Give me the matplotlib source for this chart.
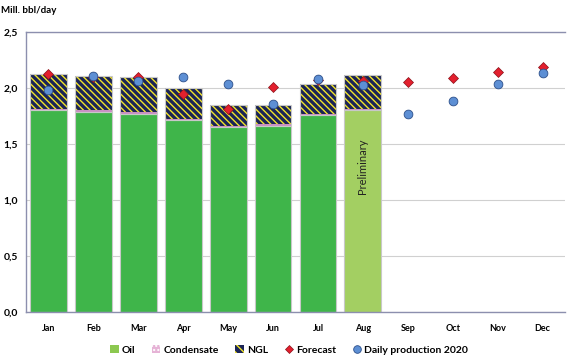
import matplotlib
matplotlib.use("Agg")
import matplotlib.pyplot as plt
from matplotlib.patches import Patch
from matplotlib.lines import Line2D
import numpy as np

plt.rcParams['font.family'] = ['Lato', 'DejaVu Sans']
plt.rcParams['hatch.linewidth'] = 1.0

months = ["Jan", "Feb", "Mar", "Apr", "May", "Jun", "Jul", "Aug", "Sep", "Oct", "Nov", "Dec"]
oil = [1.80, 1.79, 1.77, 1.71, 1.65, 1.665, 1.755, 1.80]
condensate = [0.015, 0.015, 0.015, 0.015, 0.015, 0.015, 0.015, 0.015]
ngl = [0.31, 0.305, 0.31, 0.275, 0.185, 0.17, 0.265, 0.305]
forecast = [2.125, 2.10, 2.10, 1.95, 1.81, 2.01, 2.07, 2.065, 2.05, 2.09, 2.145, 2.185]
daily_2020 = [1.985, 2.11, 2.065, 2.095, 2.04, 1.86, 2.08, 2.03, 1.77, 1.88, 2.035, 2.13]
yticks = [0.0, 0.5, 1.0, 1.5, 2.0, 2.5]
ytick_labels = ["0,0", "0,5", "1,0", "1,5", "2,0", "2,5"]

oil_color = "#3fb54a"
prelim_color = "#a3cf62"
navy = "#1b2456"
yellow = "#f2e52a"
cond_color = "#c98fc2"

fig = plt.figure(figsize=(5.67, 3.58), dpi=100)
ax = fig.add_axes([0.0459, 0.1285, 0.9506, 0.7821])

x = np.arange(len(oil))
w = 0.82
oil_colors = [oil_color] * 7 + [prelim_color]
ax.bar(x, oil, width=w, color=oil_colors, edgecolor="#c8c8c8", linewidth=0.8, zorder=2)
bottom2 = np.array(oil)
ax.bar(x, condensate, width=w, bottom=bottom2, color=cond_color, edgecolor="none",
       linewidth=0, zorder=2)
bottom3 = bottom2 + np.array(condensate)
ax.bar(x, ngl, width=w, bottom=bottom3, facecolor=navy, edgecolor=yellow,
       linewidth=0, hatch="\\\\\\\\\\", zorder=2)
ax.bar(x, np.array(ngl) + np.array(condensate), width=w, bottom=bottom2, facecolor="none",
       edgecolor="#c8c8c8", linewidth=0.8, zorder=2)

xm = np.arange(len(months))
ax.plot(xm, forecast, linestyle="none", marker="D", markersize=5, color="#e3202e",
        markeredgecolor="#8a1018", markeredgewidth=0.5, zorder=4)
ax.plot(xm, daily_2020, linestyle="none", marker="o", markersize=6.3, color="#5d8fd4",
        markeredgecolor="#2c4f8a", markeredgewidth=0.6, zorder=5)

ax.text(7, 1.30, "Preliminary", rotation=90, ha="center", va="center", fontsize=8,
        color="#222222", zorder=6)

ax.set_xlim(-0.5, 11.5)
ax.set_ylim(0, 2.5)
ax.set_yticks(yticks)
ax.set_yticklabels(ytick_labels, fontsize=7.5, fontweight="bold")
ax.set_xticks(xm)
ax.set_xticklabels(months, fontsize=6.5, fontweight="bold")
ax.tick_params(axis="both", length=0)
ax.tick_params(axis="x", pad=9)
ax.tick_params(axis="y", pad=6)
ax.grid(axis="y", color="#d0d0d0", linewidth=0.8, zorder=0)
ax.set_axisbelow(True)
for side in ["left", "bottom", "top"]:
    ax.spines[side].set_color("#8c8fae")
    ax.spines[side].set_linewidth(1.0)
ax.spines["right"].set_visible(False)

fig.text(0.002, 0.972, "Mill. bbl/day", fontsize=7, fontweight="bold", ha="left", va="center")

handles = [
    Patch(facecolor="#8cc850", edgecolor="none", label="Oil"),
    Patch(facecolor="#e6b3d6", edgecolor="white", hatch="....", linewidth=0, label="Condensate"),
    Patch(facecolor=navy, edgecolor=yellow, hatch="\\\\\\\\", linewidth=0, label="NGL"),
    Line2D([], [], linestyle="none", marker="D", markersize=4.5, color="#e3202e",
           markeredgecolor="#8a1018", markeredgewidth=0.5, label="Forecast"),
    Line2D([], [], linestyle="none", marker="o", markersize=5.5, color="#5d8fd4",
           markeredgecolor="#2c4f8a", markeredgewidth=0.6, label="Daily production 2020"),
]
leg = fig.legend(handles=handles, loc="center", bbox_to_anchor=(0.51, 0.022), ncol=5,
                 frameon=False, prop={"size": 7.5, "weight": "bold"}, handlelength=0.8,
                 handleheight=0.8, handletextpad=0.3, columnspacing=1.6)

fig.savefig("out.png", dpi=100)
